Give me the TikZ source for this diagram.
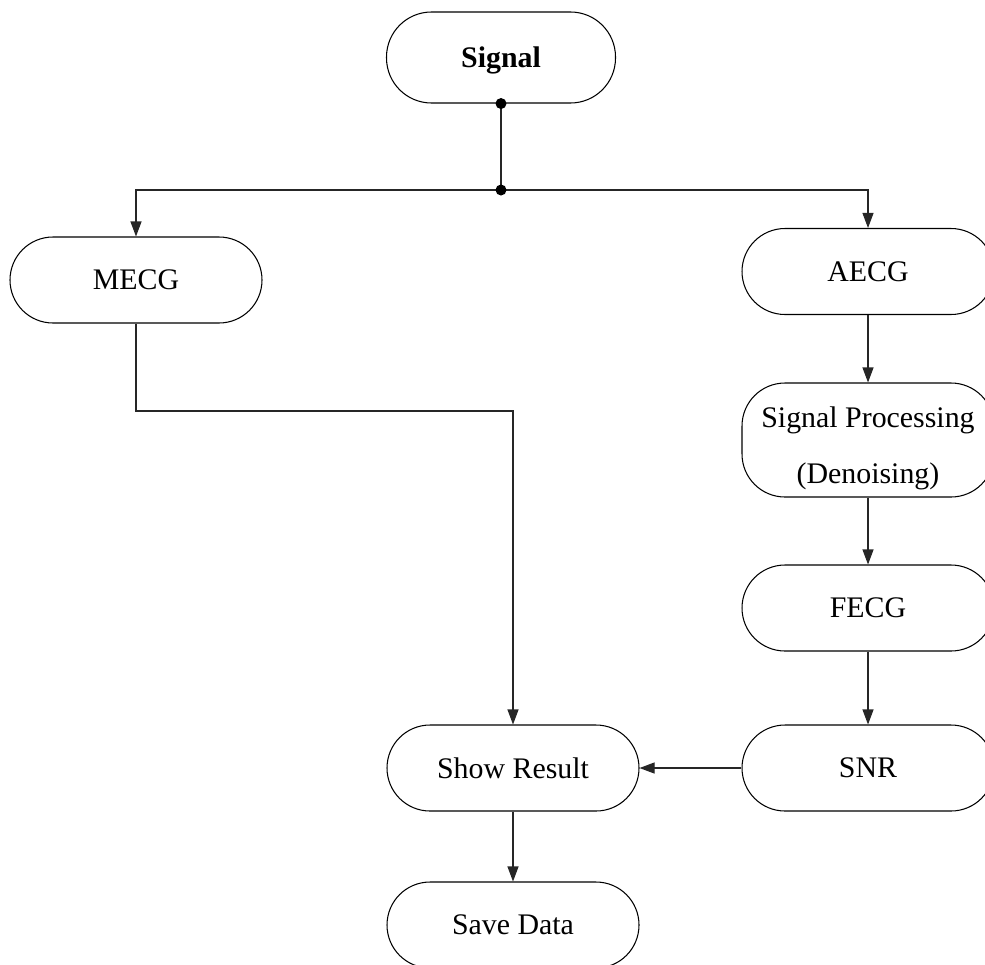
\documentclass[tikz,border=0pt]{standalone}
\usepackage{fontspec}
\setmainfont{Liberation Serif}
\usetikzlibrary{arrows.meta}

\begin{document}
\begin{tikzpicture}[
		box/.style={draw, line width=0.6pt, rounded corners=0.86cm, minimum width=5.04cm, minimum height=1.72cm, align=center, font=\fontsize{17pt}{20pt}\selectfont},
		arr/.style={-{Triangle[length=0.3cm, width=0.22cm]}},
		line/.style={line width=0.6pt, draw=black!85}
	]
				\path[use as bounding box, clip] (0,0) rectangle (19.7,-19.28);
				
				% top
				\node[box, minimum width=4.58cm, minimum height=1.82cm, rounded corners=0.9cm, font=\fontsize{17pt}{20pt}\selectfont\bfseries] (sig) at (10.02,-1.15) {\rule{0pt}{0.55cm}Signal};
				\coordinate (split) at (10.02,-3.8);
				
				% left branch
				\node[box] (mecg) at (2.72,-5.6) {MECG};
				
				% right branch
				\node[box] (aecg) at (17.36,-5.43) {AECG};
				\node[box, minimum height=2.28cm, inner ysep=0pt] (proc) at (17.36,-8.8) {\rule{0pt}{0.74cm}Signal Processing\\[12pt](Denoising)};
				\node[box] (fecg) at (17.36,-12.16) {FECG};
				\node[box] (snr) at (17.36,-15.36) {SNR};
				
				% bottom
				\node[box] (show) at (10.26,-15.36) {Show Result};
				\node[box] (save) at (10.26,-18.5) {Save Data};
				
				\draw[line] (sig.south) -- (split);
				\draw[line, arr] (split) -| (mecg.north);
				\draw[line, arr] (split) -| (aecg.north);
				\fill (sig.south) circle (0.11);
				\fill (split) circle (0.11);
				
				\coordinate (turn) at (10.26,-8.22);
				\draw[line, arr] (mecg.south) |- (turn) -- (show.north);
				
				\foreach \x/\y in
				{aecg/proc, proc/fecg, fecg/snr, snr/show, show/save}{
					\draw[line, arr] (\x) -- (\y);
				}
			\end{tikzpicture}
\end{document}
